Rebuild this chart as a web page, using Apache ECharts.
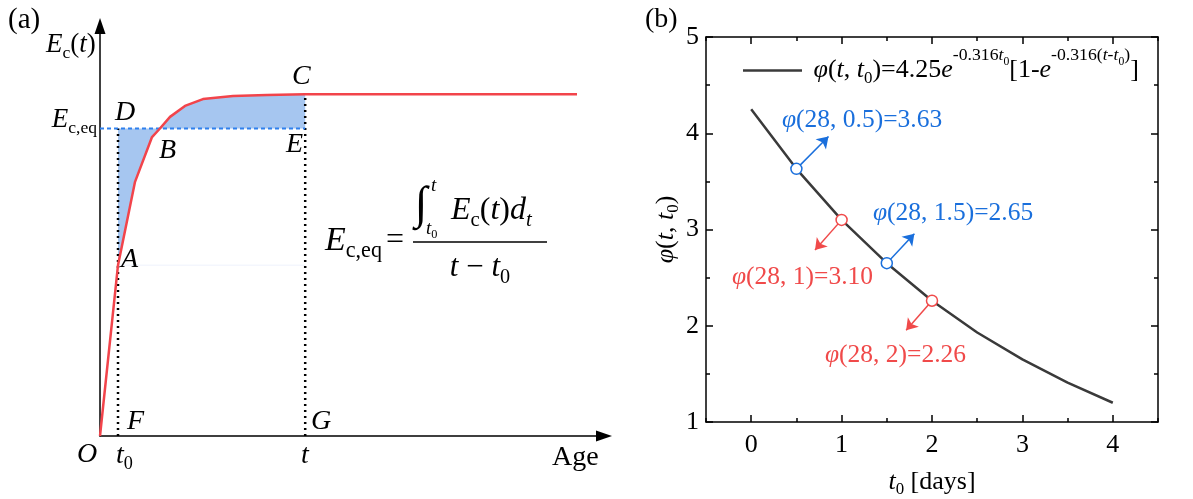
<!DOCTYPE html>
<html>
<head>
<meta charset="utf-8">
<script src="https://cdn.jsdelivr.net/npm/echarts@6/dist/echarts.min.js"></script>
<style>
  html, body { margin: 0; padding: 0; background: #fff; }
  #chart { width: 1193px; height: 499px; }
</style>
</head>
<body>
<div id="chart"></div>
<script>
// panel (a): schematic modulus curve (abstract units)
const ageX = [0, 1, 1.94, 2.89, 3.33, 3.89, 4.72, 5.72, 7.39, 9.28, 11.4, 26.5]
const modulusY = [0, 0.5, 0.743, 0.875, 0.9, 0.934, 0.966, 0.986, 0.995, 0.998, 1.0, 1.0]
const t0Age = 1
const tAge = 11.4
const eEq = 0.9
const eFinal = 1.0
const eAtT0 = 0.5

// panel (b): creep coefficient vs loading age
const t0Days = [0, 0.5, 1, 1.5, 2, 2.5, 3, 3.5, 4]
const phiValues = [4.25, 3.63, 3.10, 2.65, 2.26, 1.93, 1.65, 1.41, 1.20]
const markT0 = [0.5, 1, 1.5, 2]
const markPhi = [3.63, 3.10, 2.65, 2.26]
const markKind = ['blue', 'red', 'blue', 'red']
const arrowTips = [[0.855, 3.966], [0.706, 2.787], [1.805, 2.956], [1.714, 1.953]]
const markText = ['φ(28, 0.5)=3.63', 'φ(28, 1)=3.10', 'φ(28, 1.5)=2.65', 'φ(28, 2)=2.26']
const xTickLabels = ['0', '1', '2', '3', '4']

const FONT = 'Liberation Serif'
const COLORS = { blue: '#1a6fdc', red: '#f04a4a' }

// rich styles: all tokens top-aligned, paddings place sub/superscripts
// main line centre sits at 1.0*S from the top of a 2*S high line
function mathRich(S, color) {
  const mk = (size, top, bottom, italic) => ({
    fontFamily: FONT,
    fontSize: +size.toFixed(1),
    fontStyle: italic ? 'italic' : 'normal',
    verticalAlign: 'top',
    padding: [+top.toFixed(1), 0, +bottom.toFixed(1), 0],
    color: color,
    fill: color
  })
  return {
    n: mk(S, 0.5 * S, 0.5 * S, false),
    i: mk(S, 0.5 * S, 0.5 * S, true),
    s: mk(0.65 * S, 0.975 * S, 0, false),
    si: mk(0.65 * S, 0.975 * S, 0, true),
    p: mk(0.68 * S, 0.06 * S, 0, false),
    pi: mk(0.68 * S, 0.06 * S, 0, true),
    ps: mk(0.45 * S, 0.45 * S, 0, false)
  }
}

// text whose main line is centred on yc
function txt(x, yc, text, S, color, align) {
  color = color || '#000'
  return {
    type: 'text', x: x, y: yc - S, z: 50,
    style: { text: text, rich: mathRich(S, color), fill: color, align: align || 'left', verticalAlign: 'top' }
  }
}

const curve = ageX.map((x, i) => [x, modulusY[i]])
const iA = ageX.indexOf(t0Age)
const iB = modulusY.indexOf(eEq)
const iC = ageX.indexOf(tAge)
const shadeLower = curve.slice(iA, iB + 1).concat([[t0Age, eEq]])
const shadeUpper = curve.slice(iB, iC + 1).concat([[tAge, eEq]])

const chart = echarts.init(document.getElementById('chart'))

const arrowAxis = {
  show: true, onZero: false,
  symbol: ['none', 'triangle'], symbolSize: [11, 16],
  lineStyle: { color: '#000', width: 1.5 }
}
const boxLine = { show: true, onZero: false, lineStyle: { color: '#000', width: 1.5 } }
const tickStyle = { color: '#000', width: 1.5 }

const option = {
  animation: false,
  backgroundColor: '#fff',
  grid: [
    { left: 100, top: 26, width: 504, height: 410, containLabel: false, outerBoundsMode: 'none' },
    { left: 706, top: 37, width: 452, height: 385, containLabel: false, outerBoundsMode: 'none' }
  ],
  legend: {
    data: [{ name: 'phi', icon: 'rect' }],
    left: 738, top: 41,
    itemWidth: 59, itemHeight: 2.5,
    formatter: () => '{n| }{i|φ}{n|(}{i|t}{n|, }{i|t}{s|0}{n|)=4.25}{i|e}{p|-0.316}{pi|t}{ps|0}{n|[1-}{i|e}{p|-0.316(}{pi|t}{p|-}{pi|t}{ps|0}{p|)}{n|]}',
    textStyle: { color: '#000', rich: mathRich(26, '#000') }
  },
  xAxis: [
    {
      gridIndex: 0, type: 'value', min: 0, max: 28,
      axisLine: arrowAxis, axisTick: { show: false }, axisLabel: { show: false }, splitLine: { show: false }
    },
    {
      gridIndex: 1, type: 'value', position: 'bottom', min: -0.5, max: 4.5, interval: 0.5,
      axisLine: boxLine,
      axisTick: { show: true, inside: true, length: 4, lineStyle: tickStyle },
      axisLabel: { show: false }, splitLine: { show: false },
      name: '{i|t}{s|0}{n| [days]}', nameLocation: 'middle', nameGap: 34,
      nameTextStyle: { color: '#000', rich: mathRich(26, '#000') }
    },
    {
      gridIndex: 1, type: 'category', position: 'bottom', data: xTickLabels, boundaryGap: true,
      axisLine: { show: false, onZero: false },
      axisTick: { show: true, inside: true, alignWithLabel: true, length: 7, lineStyle: tickStyle },
      axisLabel: { color: '#000', fontFamily: FONT, fontSize: 26, margin: 10 },
      splitLine: { show: false }
    },
    {
      gridIndex: 1, type: 'value', position: 'top', min: -0.5, max: 4.5, interval: 0.5,
      axisLine: boxLine,
      axisTick: { show: true, inside: true, length: 4, lineStyle: tickStyle },
      axisLabel: { show: false }, splitLine: { show: false }
    },
    {
      gridIndex: 1, type: 'category', position: 'top', data: xTickLabels, boundaryGap: true,
      axisLine: { show: false, onZero: false },
      axisTick: { show: true, inside: true, alignWithLabel: true, length: 7, lineStyle: tickStyle },
      axisLabel: { show: false }, splitLine: { show: false }
    }
  ],
  yAxis: [
    {
      gridIndex: 0, type: 'value', min: 0, max: 1.2,
      axisLine: arrowAxis, axisTick: { show: false }, axisLabel: { show: false }, splitLine: { show: false }
    },
    {
      gridIndex: 1, type: 'value', position: 'left', min: 1, max: 5, interval: 1,
      axisLine: boxLine,
      axisTick: { show: true, inside: true, length: 7, lineStyle: tickStyle },
      minorTick: { show: true, splitNumber: 2, length: 4, lineStyle: tickStyle },
      axisLabel: { color: '#000', fontFamily: FONT, fontSize: 26, margin: 7 },
      splitLine: { show: false },
      name: '{i|φ}{n|(}{i|t}{n|, }{i|t}{s|0}{n|)}', nameLocation: 'middle', nameRotate: 90, nameGap: 11,
      nameTextStyle: { color: '#000', rich: mathRich(26, '#000') }
    },
    {
      gridIndex: 1, type: 'value', position: 'right', min: 1, max: 5, interval: 1,
      axisLine: boxLine,
      axisTick: { show: true, inside: true, length: 7, lineStyle: tickStyle },
      minorTick: { show: true, splitNumber: 2, length: 4, lineStyle: tickStyle },
      axisLabel: { show: false }, splitLine: { show: false }
    }
  ],
  series: [
    // (a) shaded areas between curve and E_c,eq
    {
      type: 'custom', xAxisIndex: 0, yAxisIndex: 0, silent: true, z: 1,
      data: [[0, 0]],
      renderItem: (params, api) => ({
        type: 'group',
        children: [shadeLower, shadeUpper].map(poly => ({
          type: 'polygon',
          shape: { points: poly.map(p => api.coord(p)) },
          style: { fill: '#a6c6f0' }
        }))
      })
    },
    {
      type: 'line', xAxisIndex: 0, yAxisIndex: 0, silent: true, showSymbol: false, z: 2,
      data: [[t0Age, eAtT0], [tAge, eAtT0]],
      lineStyle: { color: '#eef2fc', width: 1 }
    },
    {
      type: 'line', xAxisIndex: 0, yAxisIndex: 0, silent: true, showSymbol: false, z: 3,
      data: [[t0Age, 0], [t0Age, eEq]],
      lineStyle: { color: '#000', width: 2.5, type: [2, 4] }
    },
    {
      type: 'line', xAxisIndex: 0, yAxisIndex: 0, silent: true, showSymbol: false, z: 3,
      data: [[tAge, 0], [tAge, eFinal]],
      lineStyle: { color: '#000', width: 2.5, type: [2, 4] }
    },
    {
      type: 'line', xAxisIndex: 0, yAxisIndex: 0, silent: true, showSymbol: false, z: 4,
      data: [[0, eEq], [tAge, eEq]],
      lineStyle: { color: '#2f80ed', width: 2, type: [4, 3] }
    },
    {
      type: 'line', xAxisIndex: 0, yAxisIndex: 0, silent: true, showSymbol: false, z: 5,
      data: curve,
      lineStyle: { color: '#f2444b', width: 2.5 }
    },
    // (b) creep coefficient curve
    {
      name: 'phi', type: 'line', xAxisIndex: 1, yAxisIndex: 1, showSymbol: false, z: 2,
      data: t0Days.map((x, i) => [x, phiValues[i]]),
      itemStyle: { color: '#3a3a3a' },
      lineStyle: { color: '#3a3a3a', width: 2.5 }
    },
    {
      type: 'lines', coordinateSystem: 'cartesian2d', xAxisIndex: 1, yAxisIndex: 1, z: 3,
      symbol: ['none', 'arrow'], symbolSize: 11,
      data: markT0.map((x, i) => ({
        coords: [[x, markPhi[i]], arrowTips[i]],
        lineStyle: { color: COLORS[markKind[i]], width: 1.5, opacity: 1 }
      }))
    },
    {
      type: 'scatter', xAxisIndex: 1, yAxisIndex: 1, z: 4, symbol: 'circle', symbolSize: 11,
      data: markT0.map((x, i) => ({
        value: [x, markPhi[i]],
        itemStyle: { color: '#fff', borderColor: COLORS[markKind[i]], borderWidth: 1.5, opacity: 1 }
      }))
    }
  ],
  graphic: [
    txt(8, 20, '{n|(a)}', 29),
    txt(46, 45, '{i|E}{s|c}{n|(}{i|t}{n|)}', 27),
    txt(97, 120, '{i|E}{s|c,eq}', 27, '#000', 'right'),
    txt(115, 113, '{i|D}', 28),
    txt(292, 77, '{i|C}', 28),
    txt(159, 151, '{i|B}', 28),
    txt(286, 145, '{i|E}', 28),
    txt(121, 260, '{i|A}', 28),
    txt(127, 422, '{i|F}', 28),
    txt(311, 422, '{i|G}', 28),
    txt(77, 455, '{i|O}', 28),
    txt(116, 456, '{i|t}{s|0}', 28),
    txt(301, 456, '{i|t}', 28),
    txt(552, 458, '{n|Age}', 28),
    // equivalent modulus formula
    txt(325, 241, '{i|E}{s|c,eq}', 34),
    txt(386, 241, '{n|=}', 32),
    {
      type: 'text', x: 421, y: 206, z: 50,
      style: { text: '∫', font: 'italic 46px "Liberation Serif"', fill: '#000', align: 'center', verticalAlign: 'middle' }
    },
    txt(431, 186, '{i|t}', 19),
    txt(426, 229, '{i|t}{s|0}', 19),
    txt(451, 211, '{i|E}{s|c}{n|(}{i|t}{n|)}{i|d}{si|t}', 32),
    {
      type: 'line', z: 50,
      shape: { x1: 413, y1: 242, x2: 547, y2: 242 },
      style: { stroke: '#000', lineWidth: 1.5 }
    },
    txt(480, 268, '{i|t}{n| − }{i|t}{s|0}', 31, '#000', 'center'),
    // panel (b)
    txt(645, 20, '{n|(b)}', 28),
    txt(782, 120, '{i|φ}{n|' + markText[0].slice(1) + '}', 25.5, COLORS.blue),
    txt(732, 277, '{i|φ}{n|' + markText[1].slice(1) + '}', 25.5, COLORS.red),
    txt(873, 213, '{i|φ}{n|' + markText[2].slice(1) + '}', 25.5, COLORS.blue),
    txt(825, 355, '{i|φ}{n|' + markText[3].slice(1) + '}', 25.5, COLORS.red)
  ]
}

chart.setOption(option)
</script>
</body>
</html>
